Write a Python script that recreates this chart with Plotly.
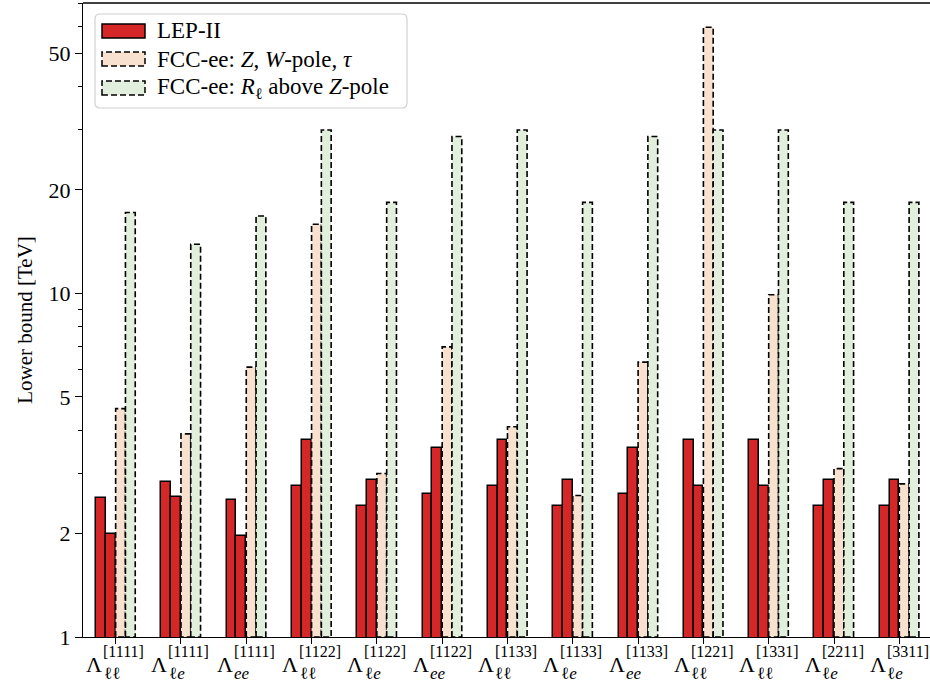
import plotly.graph_objects as go
import numpy as np

# ---- data ----
cat_sub = ["ℓℓ", "ℓ<i>e</i>", "<i>ee</i>", "ℓℓ", "ℓ<i>e</i>", "<i>ee</i>", "ℓℓ", "ℓ<i>e</i>",
           "<i>ee</i>", "ℓℓ", "ℓℓ", "ℓ<i>e</i>", "ℓ<i>e</i>"]
cat_sup = ["[1111]", "[1111]", "[1111]", "[1122]", "[1122]", "[1122]", "[1133]", "[1133]",
           "[1133]", "[1221]", "[1331]", "[2211]", "[3311]"]
lep_a = [2.53, 2.83, 2.51, 2.76, 2.41, 2.61, 2.76, 2.41, 2.61, 3.74, 3.74, 2.41, 2.41]
lep_b = [1.99, 2.56, 1.97, 3.74, 2.87, 3.56, 3.74, 2.87, 3.56, 2.76, 2.76, 2.87, 2.87]
fcc_zw = [4.62, 3.90, 6.10, 15.9, 2.99, 6.99, 4.09, 2.58, 6.31, 59.5, 9.91, 3.09, 2.79]
fcc_rl = [17.2, 13.9, 16.8, 29.9, 18.4, 28.6, 29.9, 18.4, 28.6, 29.9, 29.9, 18.4, 18.4]
y_ticks = [1, 2, 5, 10, 20, 50]
y_minor = [3, 4, 6, 7, 8, 9, 30, 40, 60, 70]
legend_names = ["LEP-II",
                "FCC-ee: <i>Z</i>, <i>W</i>-pole, <i>τ</i>",
                "FCC-ee: <i>R</i><sub>ℓ</sub> above <i>Z</i>-pole"]

FONT = "Liberation Serif"
RED = "#d62728"
ORANGE = "#f8e1cf"
GREEN = "#e1efdc"
W = 0.15
DASH = "6px,3px"
idx = np.arange(len(cat_sup))

FW, FH = 930, 682
PL, PR, PT, PB = 83, 930, 3, 637


def pxx(xp):
    return (xp - PL) / (PR - PL)


def pxy(yp):
    return (PB - yp) / (PB - PT)


fig = go.Figure()


def solid_bars(vals, off):
    fig.add_trace(go.Bar(
        x=idx, y=vals, width=W, offset=off, showlegend=False,
        marker=dict(color=RED, line=dict(color="black", width=1.5)),
    ))


def dashed_bars(vals, off, fill):
    xs, ys = [], []
    for i, v in zip(idx, vals):
        x0 = i + off
        x1 = x0 + W
        xs += [x0, x0, x1, x1, x0, None]
        ys += [1, v, v, 1, 1, None]
    fig.add_trace(go.Scatter(
        x=xs, y=ys, mode="lines", showlegend=False, fill="toself", fillcolor=fill,
        line=dict(color="black", width=1.6, dash=DASH),
        connectgaps=False, hoverinfo="skip",
    ))


solid_bars(lep_a, -0.3)
solid_bars(lep_b, -0.15)
dashed_bars(fcc_zw, 0.0, ORANGE)
dashed_bars(fcc_rl, 0.15, GREEN)

shapes = [dict(type="line", xref="paper", yref="paper", x0=0, x1=1, y0=1, y1=1,
               line=dict(color="black", width=1.3))]

# ---- custom legend (box, handles, labels) ----
bx0, by0, bx1, by1, r = 95, 14, 407, 108, 5
path = (f"M {pxx(bx0 + r)},{pxy(by0)} L {pxx(bx1 - r)},{pxy(by0)} "
        f"Q {pxx(bx1)},{pxy(by0)} {pxx(bx1)},{pxy(by0 + r)} "
        f"L {pxx(bx1)},{pxy(by1 - r)} Q {pxx(bx1)},{pxy(by1)} {pxx(bx1 - r)},{pxy(by1)} "
        f"L {pxx(bx0 + r)},{pxy(by1)} Q {pxx(bx0)},{pxy(by1)} {pxx(bx0)},{pxy(by1 - r)} "
        f"L {pxx(bx0)},{pxy(by0 + r)} Q {pxx(bx0)},{pxy(by0)} {pxx(bx0 + r)},{pxy(by0)} Z")
shapes.append(dict(type="path", xref="paper", yref="paper", path=path,
                   fillcolor="rgba(255,255,255,0.8)", line=dict(color="#d0d0d0", width=1.2),
                   layer="above"))
handle_fill = [RED, ORANGE, GREEN]
handle_dash = ["solid", DASH, DASH]
handle_rows = [(24, 38), (52, 66), (81, 95)]
annotations = []
for k, name in enumerate(legend_names):
    t, b = handle_rows[k]
    shapes.append(dict(type="rect", xref="paper", yref="paper",
                       x0=pxx(102), x1=pxx(145), y0=pxy(b), y1=pxy(t),
                       fillcolor=handle_fill[k],
                       line=dict(color="black", width=1.5, dash=handle_dash[k]),
                       layer="above"))
    annotations.append(dict(text=name, xref="paper", yref="paper", x=pxx(156),
                            y=pxy((t + b) / 2), xanchor="left", yanchor="middle",
                            showarrow=False, borderpad=0,
                            font=dict(family=FONT, size=23, color="black")))

# ---- stacked x tick labels ----
for i in idx:
    annotations.append(dict(text="Λ", xref="x", yref="paper", x=i, y=pxy(664),
                            xanchor="right", yanchor="middle", xshift=-12.5,
                            showarrow=False, borderpad=0,
                            font=dict(family=FONT, size=22, color="black")))
    annotations.append(dict(text=cat_sup[i], xref="x", yref="paper", x=i, y=pxy(651),
                            xanchor="left", yanchor="middle", xshift=-13.5,
                            showarrow=False, borderpad=0,
                            font=dict(family=FONT, size=16, color="black")))
    annotations.append(dict(text=cat_sub[i], xref="x", yref="paper", x=i, y=pxy(673),
                            xanchor="left", yanchor="middle", xshift=-13,
                            showarrow=False, borderpad=0,
                            font=dict(family=FONT, size=17, color="black")))

fig.update_layout(
    width=FW, height=FH,
    margin=dict(l=PL, r=FW - PR, t=PT, b=FH - PB, autoexpand=False),
    paper_bgcolor="white", plot_bgcolor="white",
    font=dict(family=FONT, size=21, color="black"),
    barmode="overlay", bargap=0,
    showlegend=False,
    xaxis=dict(
        range=[-0.5, 12.47], tickmode="array", tickvals=list(idx),
        ticktext=["" for _ in idx], automargin=False,
        showline=True, linecolor="black", linewidth=1.3, ticks="outside", ticklen=6,
        tickcolor="black", tickwidth=1.2, showgrid=False, zeroline=False,
    ),
    yaxis=dict(
        type="log", range=[0, np.log10(70)], tickmode="array", tickvals=y_ticks,
        ticktext=[str(t) for t in y_ticks], automargin=False,
        showline=True, linecolor="black", linewidth=1.3,
        ticks="outside", ticklen=7, tickcolor="black", tickwidth=1.2,
        showgrid=False, zeroline=False,
        title=dict(text="Lower bound [TeV]", font=dict(family=FONT, size=21), standoff=10),
        minor=dict(tickmode="array", tickvals=y_minor, ticks="outside", ticklen=4,
                   tickcolor="black", tickwidth=1, showgrid=False),
        tickfont=dict(family=FONT, size=22),
    ),
    shapes=shapes,
    annotations=annotations,
)

fig.write_html(
    "out.html",
    config={"displayModeBar": False},
    post_script="document.body.style.margin='0px';document.body.style.overflow='hidden';",
)
